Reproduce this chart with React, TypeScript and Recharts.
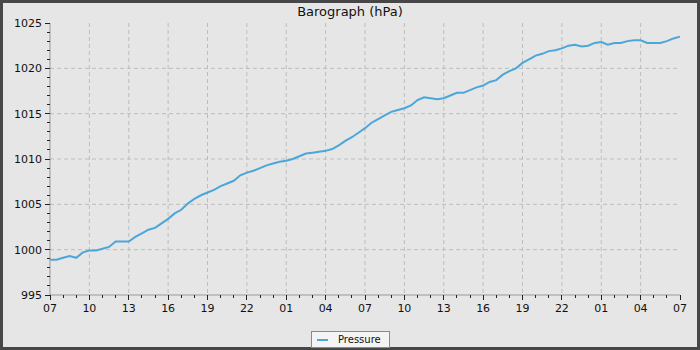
import { CartesianGrid, Legend, Line, LineChart, XAxis, YAxis } from "recharts";

// half-hourly readings, starting at 07:00 on day one
const pressure = [
  998.9, 998.9, 999.1, 999.3, 999.1, 999.7, 999.9, 999.9, 1000.1, 1000.3,
  1000.9, 1000.9, 1000.9, 1001.4, 1001.8, 1002.2, 1002.4, 1002.9, 1003.4, 1004.0,
  1004.4, 1005.1, 1005.6, 1006.0, 1006.3, 1006.6, 1007.0, 1007.3, 1007.6, 1008.2,
  1008.5, 1008.7, 1009.0, 1009.3, 1009.5, 1009.7, 1009.8, 1010.0, 1010.3, 1010.6,
  1010.7, 1010.8, 1010.9, 1011.1, 1011.5, 1012.0, 1012.4, 1012.9, 1013.4, 1014.0,
  1014.4, 1014.8, 1015.2, 1015.4, 1015.6, 1015.9, 1016.5, 1016.8, 1016.7, 1016.6,
  1016.7, 1017.0, 1017.3, 1017.3, 1017.6, 1017.9, 1018.1, 1018.5, 1018.7, 1019.3,
  1019.7, 1020.0, 1020.6, 1021.0, 1021.4, 1021.6, 1021.9, 1022.0, 1022.2, 1022.5,
  1022.6, 1022.4, 1022.5, 1022.8, 1022.9, 1022.6, 1022.8, 1022.8, 1023.0, 1023.1,
  1023.1, 1022.8, 1022.8, 1022.8, 1023.0, 1023.3, 1023.5,
];

const hourTicks = [0, 3, 6, 9, 12, 15, 18, 21, 24, 27, 30, 33, 36, 39, 42, 45, 48];
const hourLabels = ["07", "10", "13", "16", "19", "22", "01", "04", "07", "10", "13", "16", "19", "22", "01", "04", "07"];
const allHours = Array.from({ length: 49 }, (_, i) => i);

const pressureTicks = Array.from({ length: 31 }, (_, i) => 995 + i);
const pressureGrid = [1000, 1005, 1010, 1015, 1020];

const data = pressure.map((p, i) => ({ hour: i / 2, pressure: p }));

const FONT = "'DejaVu Sans', sans-serif";

function YTick({ x, y, payload }: any) {
  const major = payload.value % 5 === 0;
  return (
    <g>
      <line x1={x} x2={x - (major ? 5 : 3)} y1={y} y2={y} stroke="#222" shapeRendering="crispEdges" />
      {major && (
        <text x={x - 8} y={y} dy={4} textAnchor="end" fontSize={11} fontFamily={FONT} fill="#111">
          {payload.value}
        </text>
      )}
    </g>
  );
}

function XTick({ x, y, payload }: any) {
  const idx = hourTicks.indexOf(payload.value);
  const major = idx >= 0;
  return (
    <g>
      <line x1={x} x2={x} y1={y} y2={y + (major ? 5 : 3)} stroke="#222" shapeRendering="crispEdges" />
      {major && (
        <text x={x} y={y} dy={17} textAnchor="middle" fontSize={11} fontFamily={FONT} fill="#111">
          {hourLabels[idx]}
        </text>
      )}
    </g>
  );
}

function LegendBox() {
  return (
    <div
      style={{
        display: "flex",
        alignItems: "center",
        height: 15,
        padding: "0 8px 0 4px",
        background: "#f4f4f4",
        border: "1px solid #8a8a8a",
        fontFamily: FONT,
        fontSize: 10,
        color: "#111",
      }}
    >
      <span style={{ display: "inline-block", width: 11, height: 2, background: "#4ba6da", margin: "0 10px 0 1px" }} />
      Pressure
    </div>
  );
}

export default function App() {
  return (
    <div
      style={{
        position: "absolute",
        top: 0,
        left: 0,
        width: 700,
        height: 350,
        boxSizing: "border-box",
        border: "3px solid #474747",
        background: "#e6e6e6",
      }}
    >
      <div
        style={{
          position: "absolute",
          top: 1,
          left: 0,
          width: 694,
          textAlign: "center",
          fontFamily: FONT,
          fontSize: 13,
          color: "#111",
        }}
      >
        Barograph (hPa)
      </div>
      <LineChart width={694} height={344} data={data} margin={{ top: 20, right: 17, bottom: 27, left: 0 }}>
        <CartesianGrid
          stroke="#bdbdbd"
          strokeDasharray="4 3"
          verticalValues={hourTicks.slice(1, -1)}
          horizontalValues={pressureGrid}
        />
        <XAxis
          dataKey="hour"
          type="number"
          domain={[0, 48]}
          ticks={allHours}
          interval={0}
          height={25}
          tickSize={0}
          tickMargin={0}
          tickLine={false}
          axisLine={{ stroke: "#999" }}
          tick={<XTick />}
        />
        <XAxis
          xAxisId="top"
          orientation="top"
          type="number"
          domain={[0, 48]}
          height={0}
          tick={false}
          tickLine={false}
          axisLine={{ stroke: "#999" }}
        />
        <YAxis
          type="number"
          domain={[995, 1025]}
          ticks={pressureTicks}
          interval={0}
          width={47}
          tickSize={0}
          tickMargin={0}
          tickLine={false}
          axisLine={{ stroke: "#999" }}
          tick={<YTick />}
        />
        <YAxis
          yAxisId="right"
          orientation="right"
          type="number"
          domain={[995, 1025]}
          width={0}
          tick={false}
          tickLine={false}
          axisLine={{ stroke: "#999" }}
        />
        <Legend
          verticalAlign="middle"
          align="center"
          wrapperStyle={{ top: 328, left: 308, width: "auto" }}
          content={() => <LegendBox />}
        />
        <Line
          type="linear"
          dataKey="pressure"
          stroke="#4ba6da"
          strokeWidth={2}
          dot={false}
          isAnimationActive={false}
        />
      </LineChart>
    </div>
  );
}
